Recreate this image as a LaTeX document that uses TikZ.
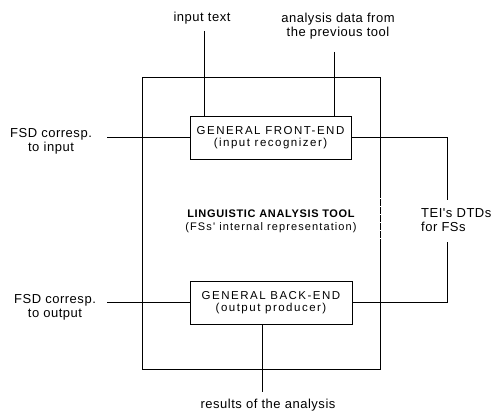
\documentclass[tikz,border=0pt]{standalone}
\usepackage{fontspec}
\setmainfont{Liberation Sans}
\newfontfamily\lblfont[LetterSpace=4]{Liberation Sans}
\newfontfamily\boxfont[LetterSpace=13]{Liberation Sans}
\newfontfamily\midboldfont[LetterSpace=6]{Liberation Sans Bold}
\newfontfamily\midfont[LetterSpace=10]{Liberation Sans}
\begin{document}
\begin{tikzpicture}[x=1pt,y=-1pt,
  ln/.style={line width=0.8pt,black},
  boxnode/.style={draw,line width=0.8pt,minimum width=161pt,minimum height=43pt,inner sep=0pt,align=center,font=\boxfont\fontsize{11.5}{12.2}\selectfont},
  lbl/.style={align=center,inner sep=0pt,font=\lblfont\fontsize{13}{14}\selectfont}]
\useasboundingbox (0,0) rectangle (493,412);
% outer tool box
\node[draw,line width=0.8pt,minimum width=238pt,minimum height=292pt,inner sep=0pt] (tool) at (261,223) {};
\draw[white,line width=1pt,dash pattern=on 1pt off 7pt] (380,198) -- (380,246);
% inner boxes
\node[boxnode] (fe) at (270.5,137.5) {GENERAL FRONT-END\\(input recognizer)};
\node[boxnode,minimum width=162pt] (be) at (271,302.5) {GENERAL BACK-END\\(output producer)};
% centre text
\node[align=center,inner sep=0pt,font=\fontsize{11}{12.5}\selectfont] (mid) at (271,221.5)
  {\midboldfont LINGUISTIC ANALYSIS TOOL\\\midfont (FSs' internal representation)};
% outer labels
\node[lbl,anchor=base] (intext) at (202,22) {input text};
\node[lbl] (adata) at (338,26.5) {analysis data from\\the previous tool};
\node[lbl] (fsdin) at (51,141) {FSD corresp.\\to input};
\node[lbl] (fsdout) at (55,307.5) {FSD corresp.\\to output};
\node[lbl,align=left,anchor=west] (tei) at (421,220.5) {TEI's DTDs\\for FSs};
\node[lbl,anchor=base] (res) at (268,408.5) {results of the analysis};
% connector end points
\coordinate (c1) at (204,31);
\coordinate (c2) at (334,52);
\coordinate (c3) at (107,137.5);
\coordinate (c4) at (107,302.5);
\coordinate (t1) at (447,200);
\coordinate (t2) at (447,242);
\coordinate (c5) at (262,392);
% connectors
\draw[ln] (c1) -- (c1 |- fe.north);
\draw[ln] (c2) -- (c2 |- fe.north);
\draw[ln] (c3) -- (fe.west);
\draw[ln] (c4) -- (be.west);
\draw[ln] (fe.east) -| (t1);
\draw[ln] (t2) |- (be.east);
\draw[ln] (c5 |- be.south) -- (c5);
\end{tikzpicture}
\end{document}
